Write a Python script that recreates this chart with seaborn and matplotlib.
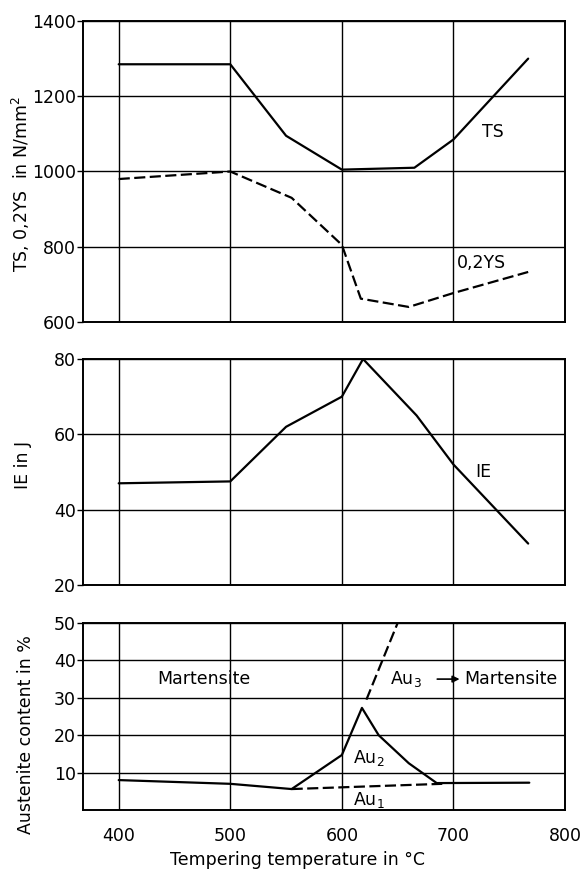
import matplotlib
matplotlib.use("Agg")
import matplotlib.pyplot as plt
import seaborn as sns
import pandas as pd

# Tempering temperature (°C) and measured properties
ts_temp = [400, 500, 550, 600, 665, 700, 767]
ts_vals = [1285, 1285, 1095, 1005, 1010, 1085, 1300]

ys_temp = [400, 500, 555, 600, 617, 660, 700, 767]
ys_vals = [980, 1000, 930, 805, 662, 640, 677, 733]

ie_temp = [400, 500, 550, 600, 619, 667, 700, 767]
ie_vals = [47, 47.5, 62, 70, 80, 65, 52, 31]

au_temp = [400, 500, 555, 600, 618, 633, 660, 685, 768]
au_vals = [8, 7, 5.6, 14.7, 27.3, 20, 12.5, 7.2, 7.3]

au1_temp = [555, 690]
au1_vals = [5.6, 7.0]

au3_temp = [622, 650]
au3_vals = [29.5, 50]

x_ticks = [400, 500, 600, 700, 800]
ts_ticks = [600, 800, 1000, 1200, 1400]
ie_ticks = [20, 40, 60, 80]
au_ticks = [10, 20, 30, 40, 50]

sns.set_theme(style="white")
plt.rcParams["font.family"] = ["DejaVu Sans"]
plt.rcParams["font.size"] = 12.5
for key in ("text.color", "axes.labelcolor", "xtick.color", "ytick.color"):
    plt.rcParams[key] = "black"

FS = 12.5

W, H = 581, 873
fig = plt.figure(figsize=(W / 100, H / 100), dpi=100)

left = 83 / W
width = (565 - 83) / W


def axes_at(top_px, bottom_px):
    return fig.add_axes([left, 1 - bottom_px / H, width, (bottom_px - top_px) / H])


ax1 = axes_at(21, 322)
ax2 = axes_at(359, 585)
ax3 = axes_at(623, 810)

LW = 1.6
DASH = (5, 2)


def line(ax, xs, ys, dashed=False):
    df = pd.DataFrame({"x": xs, "y": ys})
    kw = dict(color="black", linewidth=LW, estimator=None, sort=False, ax=ax)
    if dashed:
        kw["linestyle"] = (0, DASH)
    sns.lineplot(data=df, x="x", y="y", **kw)


line(ax1, ts_temp, ts_vals)
line(ax1, ys_temp, ys_vals, dashed=True)
line(ax2, ie_temp, ie_vals)
line(ax3, au_temp, au_vals)
line(ax3, au1_temp, au1_vals, dashed=True)
line(ax3, au3_temp, au3_vals, dashed=True)

XMIN, XMAX = 368, 800
for ax, ticks in ((ax1, ts_ticks), (ax2, ie_ticks), (ax3, au_ticks)):
    ax.set_xlim(XMIN, XMAX)
    ax.set_xlabel("")
    ax.set_ylabel("")
    ax.set_xticks(x_ticks)
    ax.set_yticks(ticks)
    ax.grid(True, color="black", linewidth=1.0)
    for s in ax.spines.values():
        s.set_color("black")
        s.set_linewidth(1.4)
    ax.tick_params(axis="y", which="both", left=True, length=4, width=1.0,
                   color="black", labelsize=FS, pad=1)
    ax.tick_params(axis="x", bottom=False, labelsize=FS)

ax1.set_ylim(600, 1400)
ax2.set_ylim(20, 80)
ax3.set_ylim(0, 50)
ax1.set_xticklabels([])
ax2.set_xticklabels([])
ax3.tick_params(axis="x", pad=6)

# Curve labels
ax1.text(735, 1105, "TS", fontsize=FS, ha="center", va="center")
ax1.text(725, 757, "0,2YS", fontsize=FS, ha="center", va="center")
ax2.text(727, 50, "IE", fontsize=FS, ha="center", va="center")
ax3.text(476, 35, "Martensite", fontsize=FS, ha="center", va="center")
ax3.text(624, 14, "Au$_2$", fontsize=FS, ha="center", va="center")
ax3.text(624, 2.6, "Au$_1$", fontsize=FS, ha="center", va="center")
ax3.text(643, 35, "Au$_3$", fontsize=FS, ha="left", va="center")
ax3.text(710, 35, "Martensite", fontsize=FS, ha="left", va="center")
ax3.annotate("", xy=(708, 35), xytext=(683, 35),
             arrowprops=dict(arrowstyle="-|>", color="black", lw=1.2,
                             mutation_scale=10))

# Axis titles
fig.text(21 / W, 1 - 184 / H, "TS, 0,2YS  in N/mm$^2$", rotation=90,
         ha="center", va="center", fontsize=FS)
fig.text(23 / W, 1 - 465 / H, "IE in J", rotation=90,
         ha="center", va="center", fontsize=FS)
fig.text(26 / W, 1 - 735 / H, "Austenite content in %", rotation=90,
         ha="center", va="center", fontsize=FS)
fig.text(298 / W, 1 - 860 / H, "Tempering temperature in °C",
         ha="center", va="center", fontsize=FS)

fig.savefig("out.png", dpi=100, facecolor="white")
